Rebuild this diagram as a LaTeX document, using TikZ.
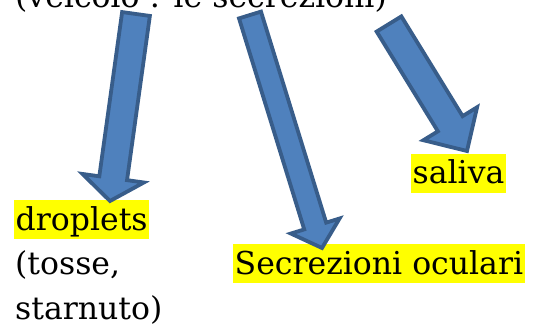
\documentclass[tikz,border=0pt]{standalone}
\usepackage{fontspec}
\setmainfont{DejaVu Serif}
\usetikzlibrary{calc}

\definecolor{arrowfill}{HTML}{4F81BD}
\definecolor{arrowline}{HTML}{385D8A}
\definecolor{marker}{HTML}{FFFF00}

\tikzset{
  plain text/.style={anchor=base west, inner sep=0pt, font=\fontsize{31.5}{36}\selectfont},
  marked text/.style={plain text, fill=marker, text height=30pt, text depth=9pt, inner xsep=1.5pt},
  blockarrow/.style={fill=arrowfill, draw=arrowline, line width=3.8pt, line join=miter},
}

% block arrow: #1 tail centre, #2 tip, #3 shaft half-width, #4 head half-width, #5 head length
\newcommand\blockarrow[5]{%
  \coordinate (neck) at ($(#2)!#5pt!(#1)$);
  \draw[blockarrow]
    ($(#1)!#3pt!90:(#2)$) -- ($(neck)!#3pt!90:(#2)$) -- ($(neck)!#4pt!90:(#2)$)
    -- (#2)
    -- ($(neck)!#4pt!-90:(#2)$) -- ($(neck)!#3pt!-90:(#2)$) -- ($(#1)!#3pt!-90:(#2)$)
    -- cycle;
}

\begin{document}
\begin{tikzpicture}[x=1pt, y=1pt]
  \useasboundingbox (0,0) rectangle (536,-326);
  \clip (0,0) rectangle (536,-326);

  % heading, running off the top edge
  \node[plain text] (head) at (15,-8) {(veicolo : le secrezioni)};

  % routes
  \node[marked text] (drop) at (14,-230) {droplets};
  \node[plain text] (drop2) at (15,-274) {(tosse,};
  \node[plain text] (drop3) at (15,-319) {starnuto)};
  \node[marked text] (ocul) at (233,-274) {Secrezioni oculari};
  \node[marked text] (sal) at (411,-184) {saliva};

  % arrow ends
  \coordinate (t1) at (136,-14);
  \coordinate (h1) at (110,-201);
  \coordinate (t2) at (250,-15);
  \coordinate (h2) at (322,-248);
  \coordinate (t3) at (389,-24);
  \coordinate (h3) at (467,-151);

  \blockarrow{t1}{h1}{14}{31}{23}
  \blockarrow{t2}{h2}{11.5}{25.5}{23}
  \blockarrow{t3}{h3}{14.5}{31.5}{32}
\end{tikzpicture}
\end{document}
